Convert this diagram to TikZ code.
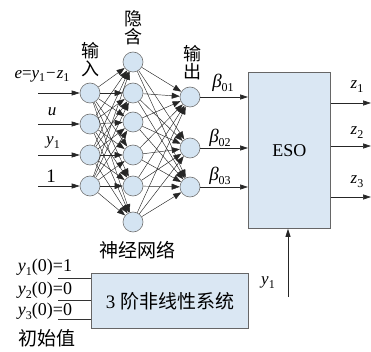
\documentclass[tikz,border=0pt]{standalone}
\usepackage{fontspec}
\setmainfont{Liberation Serif}
\newfontfamily\cjk{Noto Sans CJK SC}
\usetikzlibrary{arrows.meta}
\definecolor{nfill}{RGB}{212,228,242}
\definecolor{bfill}{RGB}{218,231,243}
\newcommand{\sbs}[1]{\raisebox{-0.5ex}{\fontsize{12}{12}\selectfont #1}}
\begin{document}
\begin{tikzpicture}[x=1pt,y=-1pt,
 neuron/.style={circle,draw=black!55,fill=nfill,minimum size=20pt,inner sep=0pt,line width=0.6pt},
 conn/.style={-{Triangle[length=8pt,width=6pt]},draw=black!85,line width=0.45pt},
 sig/.style={-{Triangle[length=8pt,width=5pt]},line width=0.6pt,draw=black!85},
 blk/.style={draw=black!60,fill=bfill,line width=0.8pt,inner sep=0pt,anchor=north west},
 lab/.style={font=\fontsize{17}{17}\selectfont,inner sep=0pt},
 cn/.style={font=\fontsize{18}{18}\cjk,inner sep=0pt,align=center}]
\useasboundingbox (0,0) rectangle (371,352);
% neurons
\node[neuron] (i1) at (90,93) {};
\node[neuron] (i2) at (90,124) {};
\node[neuron] (i3) at (90,155) {};
\node[neuron] (i4) at (90,186) {};
\node[neuron] (h1) at (133,62) {};
\node[neuron] (h2) at (133,93) {};
\node[neuron] (h3) at (133,122) {};
\node[neuron] (h4) at (133,155) {};
\node[neuron] (h5) at (133,186) {};
\node[neuron] (h6) at (133,222) {};
\node[neuron] (o1) at (190,97) {};
\node[neuron] (o2) at (190,148) {};
\node[neuron] (o3) at (190,187) {};
% connections
\foreach \i in {1,...,4}{\foreach \h in {1,...,6}{\draw[conn] (i\i) -- (h\h);}}
\foreach \h in {1,...,6}{\foreach \o in {1,2,3}{\draw[conn] (h\h) -- (o\o);}}
% ESO
\node[blk,minimum width=82pt,minimum height=156pt,font=\fontsize{18}{18}\selectfont] (eso) at (248,72) {ESO};
\foreach \o in {1,2,3}{\draw[sig] (o\o) -- (eso.west |- o\o);}
\coordinate (z1e) at (371,103);
\coordinate (z2e) at (371,146);
\coordinate (z3e) at (371,197);
\draw[sig] (eso.east |- z1e) -- (z1e);
\draw[sig] (eso.east |- z2e) -- (z2e);
\draw[sig] (eso.east |- z3e) -- (z3e);
\node[lab] (zl1) at (357,87) {\itshape z\sbs{\upshape 1}};
\node[lab] (zl2) at (357,133) {\itshape z\sbs{\upshape 2}};
\node[lab] (zl3) at (357,182) {\itshape z\sbs{\upshape 3}};
\node[lab,font=\fontsize{19}{19}\selectfont] (b1) at (223,83) {\itshape β\sbs{\upshape 01}};
\node[lab,font=\fontsize{19}{19}\selectfont] (b2) at (220,138) {\itshape β\sbs{\upshape 02}};
\node[lab,font=\fontsize{19}{19}\selectfont] (b3) at (220,176) {\itshape β\sbs{\upshape 03}};
% inputs
\coordinate (a1) at (38,93);
\coordinate (a2) at (38,124);
\coordinate (a3) at (38,155);
\coordinate (a4) at (38,186);
\draw[sig] (a1) -- (i1);
\draw[sig] (a2) -- (i2);
\draw[sig] (a3) -- (i3);
\draw[sig] (a4) -- (i4);
\node[lab] (e) at (42,76) {\itshape e\upshape =\itshape y\sbs{\upshape 1}\kern1pt\upshape −\kern1pt\itshape z\sbs{\upshape 1}};
\node[lab] (u) at (52,112) {\itshape u};
\node[lab] (y) at (53,143) {\itshape y\sbs{\upshape 1}};
\node[lab,font=\fontsize{19}{19}\selectfont] (one) at (51,176) {1};
% CJK labels
\node[cn] (tin) at (90,60) {输\\入};
\node[cn] (thid) at (133,28) {隐\\含};
\node[cn] (tout) at (192,63) {输\\出};
\node[cn,font=\fontsize{19}{19}\cjk] (tnet) at (137,250) {神经网络};
% system
\node[blk,minimum width=157pt,minimum height=55pt,font=\fontsize{19}{19}\selectfont] (sys) at (91,273) {3 {\cjk 阶非线性系统}};
\coordinate (l1) at (58,278);
\coordinate (l2) at (58,300);
\coordinate (l3) at (58,319);
\draw[line width=0.6pt,draw=black!80] (l1) -- (sys.west |- l1);
\draw[line width=0.6pt,draw=black!80] (l2) -- (sys.west |- l2);
\draw[line width=0.6pt,draw=black!80] (l3) -- (sys.west |- l3);
\node[lab,font=\fontsize{18}{18}\selectfont] (ic1) at (45,267) {\itshape y\sbs{\upshape 1}\upshape (0)=1};
\node[lab,font=\fontsize{18}{18}\selectfont] (ic2) at (45,290) {\itshape y\sbs{\upshape 2}\upshape (0)=0};
\node[lab,font=\fontsize{18}{18}\selectfont] (ic3) at (45,311) {\itshape y\sbs{\upshape 3}\upshape (0)=0};
\node[cn,font=\fontsize{19}{19}\cjk] (tinit) at (47,338) {初始值};
\coordinate (yb) at (288,297);
\draw[sig] (yb) -- (yb |- eso.south);
\node[lab] (yl) at (268,283) {\itshape y\sbs{\upshape 1}};
\end{tikzpicture}
\end{document}
